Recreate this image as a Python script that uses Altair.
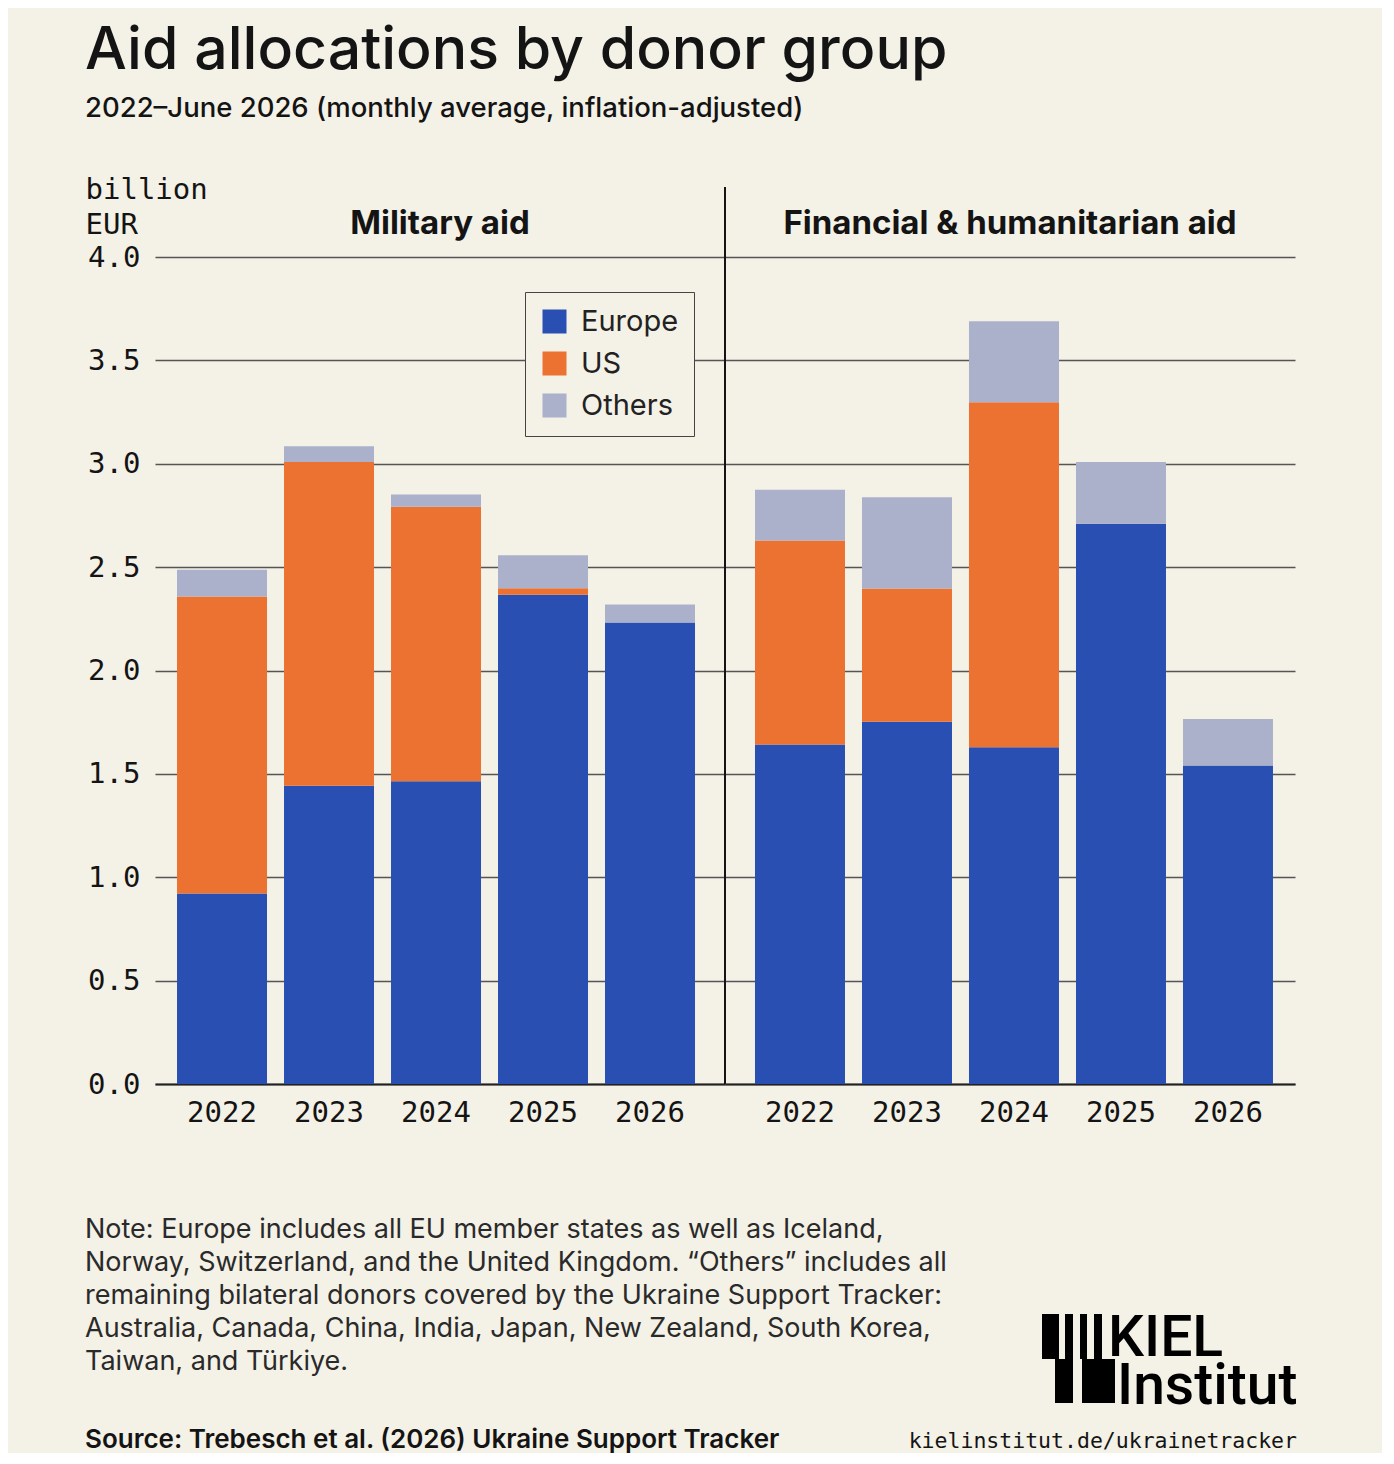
import altair as alt
import pandas as pd

# ---------------- data ----------------
years = ["2022", "2023", "2024", "2025", "2026"]
groups = ["Europe", "US", "Others"]

mil_europe = [0.922, 1.442, 1.464, 2.366, 2.232]
mil_us = [1.436, 1.566, 1.328, 0.032, 0.0]
mil_others = [0.129, 0.077, 0.059, 0.160, 0.087]

fin_europe = [1.642, 1.752, 1.629, 2.710, 1.540]
fin_us = [0.987, 0.645, 1.669, 0.0, 0.0]
fin_others = [0.245, 0.441, 0.391, 0.298, 0.226]

y_ticks = [0.0, 0.5, 1.0, 1.5, 2.0, 2.5, 3.0, 3.5, 4.0]

title_text = "Aid allocations by donor group"
subtitle_text = "2022\u2013June 2026 (monthly average, inflation-adjusted)"
panel_titles = ["Military aid", "Financial & humanitarian aid"]
unit_lines = ["billion", "EUR"]
note_lines = [
    "Note: Europe includes all EU member states as well as Iceland,",
    "Norway, Switzerland, and the United Kingdom. \u201cOthers\u201d includes all",
    "remaining bilateral donors covered by the Ukraine Support Tracker:",
    "Australia, Canada, China, India, Japan, New Zealand, South Korea,",
    "Taiwan, and T\u00fcrkiye.",
]
source_text = "Source: Trebesch et al. (2026) Ukraine Support Tracker"
url_text = "kielinstitut.de/ukrainetracker"
logo_lines = ["KIEL", "Institut"]

# ---------------- style ----------------
colors = ["#2a4fb3", "#ec7232", "#abb1ca"]
BG = "#f4f1e7"
INK = "#141414"
SANS = "Inter"
LOGO = "Roboto"
MONO = "DejaVu Sans Mono"
W, H = 570, 827


def long_table(eu, us, ot):
    rows = []
    for i, yr in enumerate(years):
        for k, (g, v) in enumerate(zip(groups, [eu[i], us[i], ot[i]])):
            rows.append({"year": yr, "group": g, "value": v, "order": k})
    return pd.DataFrame(rows)


one = pd.DataFrame({"k": [0]})


def panel(df, title, first, align):
    x = alt.X(
        "year:N", sort=years, title=None,
        scale=alt.Scale(paddingInner=0, paddingOuter=0.1636, align=align),
        axis=alt.Axis(labelAngle=0, labelFont=MONO, labelFontSize=29, labelColor=INK,
                      labelPadding=14, ticks=False, domainColor="#222", domainWidth=2,
                      grid=False),
    )
    if first:
        yaxis = alt.Axis(values=y_ticks, format=".1f", labelFont=MONO, labelFontSize=29,
                         labelColor=INK, labelPadding=15, ticks=False, domain=False,
                         grid=True, gridColor="#555", gridWidth=1.3,
                         title=unit_lines, titleFont=MONO, titleFontSize=29,
                         titleFontWeight="normal", titleColor=INK, titleAngle=0,
                         titleAlign="left", titleBaseline="alphabetic",
                         titleX=-70, titleY=-59, titleLineHeight=35)
        legend = alt.Legend(orient="none", legendX=370, legendY=35, title=None,
                            symbolType="square", symbolSize=576, symbolStrokeWidth=0,
                            symbolOpacity=1, labelFont=SANS, labelFontSize=29,
                            labelColor="#222", rowPadding=12, padding=15,
                            strokeColor="#444", fillColor=BG, labelOffset=12)
    else:
        yaxis = alt.Axis(values=y_ticks, labels=False, ticks=False, domain=False,
                         grid=True, gridColor="#555", gridWidth=1.3, title=None)
        legend = None
    y = alt.Y("value:Q", stack="zero", scale=alt.Scale(domain=[0, 4], nice=False),
              axis=yaxis)
    color = alt.Color("group:N", sort=groups,
                      scale=alt.Scale(domain=groups, range=colors), legend=legend)
    bars = alt.Chart(df).mark_bar(size=90).encode(
        x=x, y=y, color=color, order=alt.Order("order:Q", sort="ascending"))
    head = alt.Chart(one).mark_text(
        text=title, font=SANS, fontSize=33, fontWeight="bold", color=INK,
        align="center", baseline="alphabetic").encode(
        x=alt.value(W / 2), y=alt.value(-23))
    layers = [bars, head]
    if first:
        notes = alt.Chart(one).mark_text(
            text=note_lines, font=SANS, fontSize=27, color="#2a2a2a", align="left",
            baseline="alphabetic", lineHeight=33).encode(
            x=alt.value(-70), y=alt.value(981))
        src = alt.Chart(one).mark_text(
            text=source_text, font=SANS, fontSize=26, fontWeight=600, color=INK,
            align="left", baseline="alphabetic").encode(
            x=alt.value(-70), y=alt.value(1191))
        layers += [notes, src]
    else:
        divider = alt.Chart(one).mark_rule(color=INK, strokeWidth=2).encode(
            x=alt.value(0), y=alt.value(-70), y2=alt.value(H))
        url = alt.Chart(one).mark_text(
            text=url_text, font=MONO, fontSize=21.5, color=INK, align="right",
            baseline="alphabetic").encode(x=alt.value(572), y=alt.value(1191))
        kiel = alt.Chart(one).mark_text(
            text=logo_lines[0], font=LOGO, fontSize=57, fontWeight=500, color="#000",
            align="left", baseline="alphabetic").encode(
            x=alt.value(383), y=alt.value(1099))
        inst = alt.Chart(one).mark_text(
            text=logo_lines[1], font=LOGO, fontSize=57, fontWeight=500, color="#000",
            align="left", baseline="alphabetic").encode(
            x=alt.value(392), y=alt.value(1147))
        logo = []
        for (x0, x1, y0, y1) in [(317, 334, 1057, 1102), (340, 348, 1057, 1102),
                                 (355, 362, 1057, 1102), (369, 377, 1057, 1102),
                                 (330, 348, 1102, 1146), (357, 390, 1102, 1146)]:
            logo.append(alt.Chart(one).mark_rect(color="#000").encode(
                x=alt.value(x0), x2=alt.value(x1), y=alt.value(y0), y2=alt.value(y1)))
        layers = [divider] + layers + [url, kiel, inst] + logo
    return alt.layer(*layers).properties(width=W, height=H)


p1 = panel(long_table(mil_europe, mil_us, mil_others), panel_titles[0], True, 0.386)
p2 = panel(long_table(fin_europe, fin_us, fin_others), panel_titles[1], False, 0.614)

chart = (
    alt.hconcat(p1, p2, spacing=0, bounds="flush")
    .resolve_scale(x="independent")
    .resolve_legend(color="independent")
    .properties(
        title=alt.TitleParams(
            text=title_text, subtitle=subtitle_text, anchor="start", frame="bounds",
            font=SANS, fontSize=59, fontWeight=500, color=INK,
            subtitleFont=SANS, subtitleFontSize=27.5, subtitleFontWeight=500,
            subtitleColor=INK, subtitlePadding=14, offset=53),
        padding={"left": 77, "top": 13, "right": 84, "bottom": 0},
        background=BG,
    )
    .configure_view(stroke=None)
)

chart.save("out.html", embed_options={"renderer": "svg", "actions": False})
